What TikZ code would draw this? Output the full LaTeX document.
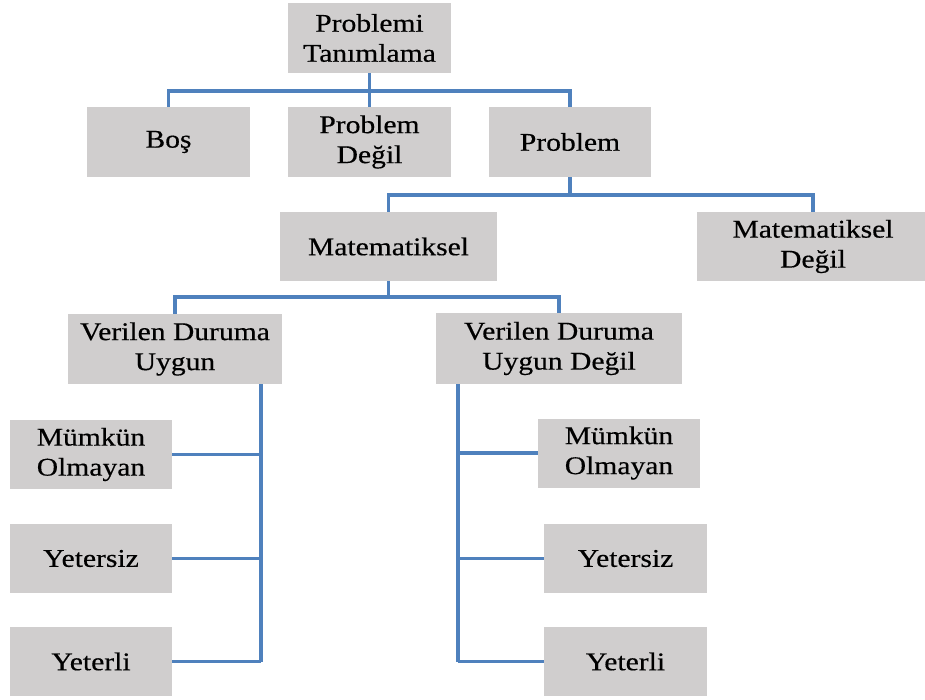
\documentclass[tikz,border=0pt]{standalone}
\usepackage{fontspec}
\setmainfont{Liberation Serif}[FakeStretch=1.16,FakeBold=0.4]
\definecolor{boxgray}{RGB}{208,206,206}
\definecolor{linkblue}{RGB}{79,129,189}
\begin{document}
\begin{tikzpicture}[x=1pt,y=-1pt,
  box/.style={rectangle, fill=boxgray, inner sep=0pt, align=center, text=black,
    font=\fontsize{25.5}{30}\selectfont},
  conn/.style={draw=linkblue, line width=3.4pt, line join=miter}]
\useasboundingbox (0,0) rectangle (925,700);
\fill[white] (0,0) rectangle (925,700);
% boxes
\node[box, minimum width=163pt, minimum height=70pt] (top) at (369.5,38) {Problemi\\Tanımlama};
\node[box, minimum width=163pt, minimum height=70pt] (bos) at (168.5,142) {Boş};
\node[box, minimum width=163pt, minimum height=70pt] (pdegil) at (369.5,142) {Problem\\Değil};
\node[box, minimum width=162pt, minimum height=70pt] (problem) at (570,142) {Problem};
\node[box, minimum width=217pt, minimum height=69pt] (mat) at (388.5,246.5) {Matematiksel};
\node[box, minimum width=232pt, minimum height=69pt] (matdegil) at (813,246.5) {Matematiksel\\Değil};
\node[box, minimum width=214pt, minimum height=70pt] (vdu) at (175,349) {Verilen Duruma\\Uygun};
\node[box, minimum width=246pt, minimum height=71pt] (vdud) at (559,348.5) {Verilen Duruma\\Uygun Değil};
\node[box, minimum width=162pt, minimum height=69pt] (mo1) at (91,454.5) {Mümkün\\Olmayan};
\node[box, minimum width=162pt, minimum height=69pt] (yz1) at (91,558.5) {Yetersiz};
\node[box, minimum width=162pt, minimum height=69pt] (yl1) at (91,661.5) {Yeterli};
\node[box, minimum width=162pt, minimum height=69pt] (mo2) at (619,453) {Mümkün\\Olmayan};
\node[box, minimum width=163pt, minimum height=69pt] (yz2) at (625.5,558.5) {Yetersiz};
\node[box, minimum width=163pt, minimum height=69pt] (yl2) at (625.5,661.5) {Yeterli};
% junctions
\coordinate (j1) at (369.5,91);
\coordinate (j2) at (570,195);
\coordinate (j3) at (388.5,297);
\coordinate (lt) at (261,384);
\coordinate (lb) at (261,661.5);
\coordinate (rt) at (458,384);
\coordinate (rb) at (458,661.5);
% connectors
\draw[conn] (top.south) -- (j1);
\draw[conn] (bos.north) |- (j1) -| (problem.north);
\draw[conn] (j1) -- (pdegil.north);
\draw[conn] (problem.south) -- (j2);
\draw[conn] (mat.north) |- (j2) -| (matdegil.north);
\draw[conn] (mat.south) -- (j3);
\draw[conn] (vdu.north) |- (j3) -| (vdud.north);
\draw[conn] (lt) -- (lb);
\draw[conn] (mo1.east) -- (mo1.east -| lt);
\draw[conn] (yz1.east) -- (yz1.east -| lt);
\draw[conn] (yl1.east) -- (lb);
\draw[conn] (rt) -- (rb);
\draw[conn] (mo2.west) -- (mo2.west -| rt);
\draw[conn] (yz2.west) -- (yz2.west -| rt);
\draw[conn] (yl2.west) -- (rb);
\end{tikzpicture}
\end{document}
